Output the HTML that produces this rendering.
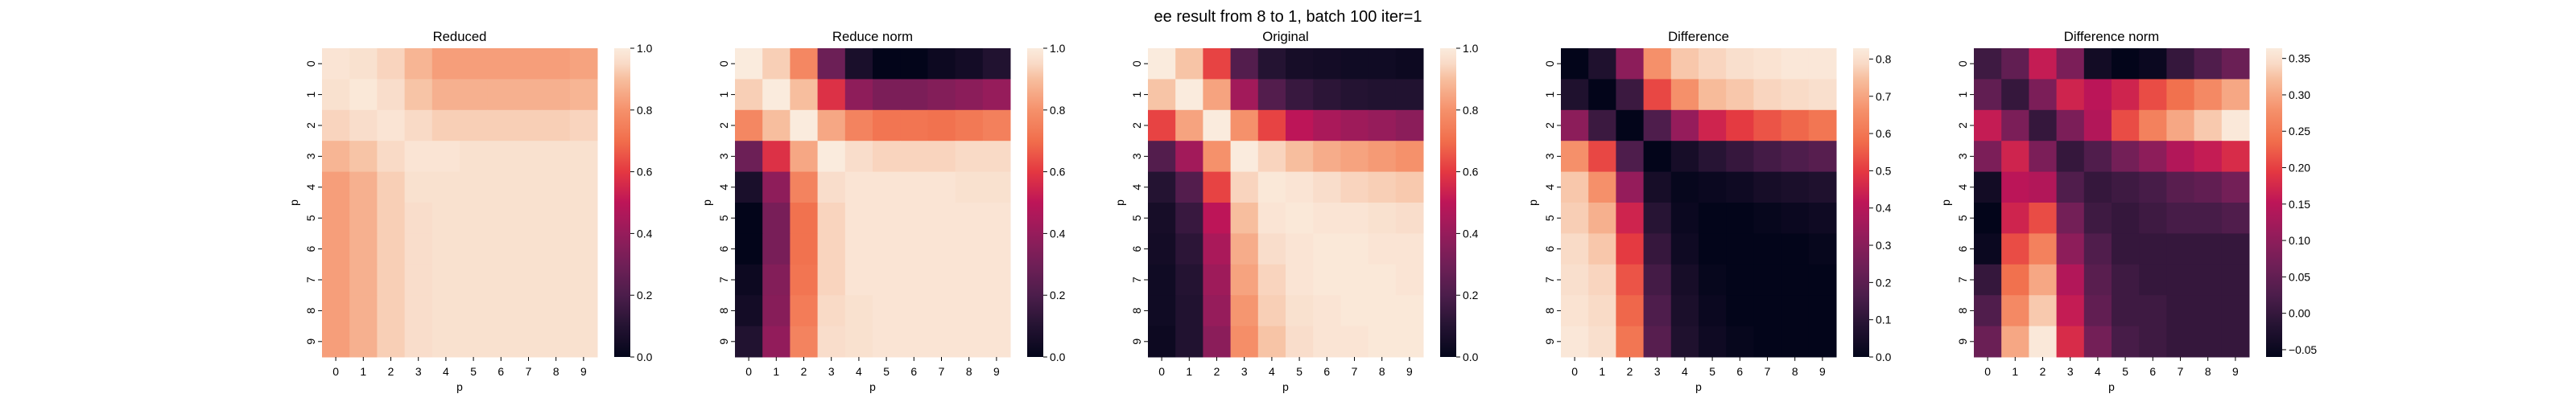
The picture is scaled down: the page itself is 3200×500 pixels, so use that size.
<!DOCTYPE html>
<html><head><meta charset="utf-8">
<style>
html,body{margin:0;padding:0;background:#fff;}
svg{display:block;font-family:"Liberation Sans","DejaVu Sans",sans-serif;}
</style></head>
<body>
<svg id="fig" width="3200" height="500" viewBox="0 0 3200 500" xmlns="http://www.w3.org/2000/svg">
<text x="1600" y="27" text-anchor="middle" font-size="20" fill="#000">ee result from 8 to 1, batch 100 iter=1</text>
</svg>
<script>
// categories
const categories = [0,1,2,3,4,5,6,7,8,9];
const titles = ["Reduced","Reduce norm","Original","Difference","Difference norm"];
const vmins = [0,0,0,0,-0.060];
const vmaxs = [1,1,1,0.829,0.364];
const cbarTicks0 = [0,0.2,0.4,0.6,0.8,1.0];
const cbarTicks3 = [0,0.1,0.2,0.3,0.4,0.5,0.6,0.7,0.8];
const cbarTicks4 = [-0.05,0,0.05,0.10,0.15,0.20,0.25,0.30,0.35];
const cbarLabels0 = ["0.0","0.2","0.4","0.6","0.8","1.0"];
const cbarLabels3 = ["0.0","0.1","0.2","0.3","0.4","0.5","0.6","0.7","0.8"];
const cbarLabels4 = ["\u22120.05","0.00","0.05","0.10","0.15","0.20","0.25","0.30","0.35"];

const reduced = [
[0.98,0.97,0.94,0.88,0.83,0.83,0.83,0.83,0.83,0.84],
[0.97,0.99,0.96,0.91,0.87,0.87,0.87,0.87,0.87,0.88],
[0.94,0.96,0.98,0.95,0.93,0.93,0.93,0.93,0.93,0.94],
[0.88,0.91,0.95,0.98,0.98,0.97,0.97,0.97,0.97,0.97],
[0.83,0.87,0.93,0.97,0.97,0.97,0.97,0.97,0.97,0.97],
[0.83,0.87,0.93,0.96,0.97,0.97,0.97,0.97,0.97,0.97],
[0.83,0.87,0.93,0.96,0.97,0.97,0.97,0.97,0.97,0.97],
[0.83,0.87,0.93,0.96,0.97,0.97,0.97,0.97,0.97,0.97],
[0.83,0.87,0.93,0.96,0.97,0.97,0.97,0.97,0.97,0.97],
[0.83,0.87,0.93,0.96,0.97,0.97,0.97,0.97,0.97,0.97]];
const reduceNorm = [
[1.00,0.93,0.77,0.29,0.07,0.00,0.00,0.03,0.05,0.09],
[0.93,1.00,0.90,0.58,0.38,0.33,0.33,0.35,0.37,0.40],
[0.77,0.90,1.00,0.85,0.76,0.72,0.72,0.71,0.73,0.75],
[0.29,0.58,0.85,1.00,0.96,0.94,0.94,0.94,0.95,0.95],
[0.07,0.38,0.76,0.96,0.98,0.98,0.98,0.98,0.97,0.97],
[0.00,0.32,0.71,0.94,0.98,0.98,0.98,0.98,0.98,0.98],
[0.00,0.32,0.71,0.94,0.98,0.98,0.98,0.98,0.98,0.98],
[0.03,0.35,0.72,0.94,0.98,0.98,0.98,0.98,0.98,0.98],
[0.05,0.36,0.74,0.95,0.97,0.98,0.98,0.98,0.98,0.98],
[0.09,0.39,0.76,0.96,0.97,0.98,0.98,0.98,0.98,0.98]];
const original = [
[1.00,0.91,0.62,0.22,0.10,0.06,0.05,0.04,0.04,0.03],
[0.91,1.00,0.84,0.43,0.22,0.15,0.12,0.10,0.09,0.09],
[0.62,0.84,1.00,0.80,0.62,0.50,0.45,0.42,0.40,0.37],
[0.22,0.43,0.80,1.00,0.94,0.90,0.86,0.84,0.82,0.80],
[0.10,0.22,0.62,0.94,0.99,0.98,0.96,0.94,0.93,0.92],
[0.06,0.15,0.50,0.90,0.98,0.99,0.98,0.98,0.97,0.96],
[0.05,0.12,0.45,0.86,0.96,0.98,0.99,0.99,0.98,0.98],
[0.04,0.10,0.42,0.84,0.94,0.98,0.99,0.99,0.99,0.98],
[0.04,0.09,0.40,0.81,0.93,0.97,0.98,0.99,0.99,0.99],
[0.03,0.09,0.37,0.79,0.91,0.96,0.98,0.98,0.99,0.99]];
const difference = [
[0.00,0.07,0.31,0.66,0.76,0.78,0.80,0.81,0.82,0.82],
[0.07,0.00,0.13,0.52,0.66,0.74,0.76,0.78,0.79,0.80],
[0.31,0.13,0.00,0.17,0.33,0.45,0.50,0.54,0.57,0.60],
[0.66,0.52,0.17,0.00,0.05,0.09,0.12,0.15,0.17,0.19],
[0.76,0.66,0.33,0.05,0.01,0.02,0.03,0.05,0.06,0.07],
[0.77,0.72,0.45,0.09,0.02,0.00,0.00,0.01,0.02,0.03],
[0.79,0.76,0.50,0.12,0.03,0.00,0.00,0.00,0.00,0.01],
[0.80,0.78,0.54,0.15,0.05,0.01,0.00,0.00,0.00,0.00],
[0.81,0.79,0.57,0.17,0.06,0.02,0.00,0.00,0.00,0.00],
[0.82,0.80,0.60,0.19,0.07,0.03,0.01,0.00,0.00,0.00]];
const differenceNorm = [
[0.01,0.05,0.16,0.08,-0.04,-0.06,-0.05,0.00,0.03,0.06],
[0.05,0.00,0.08,0.17,0.15,0.17,0.21,0.24,0.27,0.30],
[0.16,0.08,0.00,0.08,0.14,0.21,0.26,0.30,0.33,0.36],
[0.08,0.17,0.08,0.00,0.03,0.07,0.10,0.14,0.16,0.18],
[-0.04,0.15,0.14,0.03,0.00,0.01,0.02,0.04,0.05,0.07],
[-0.06,0.17,0.21,0.07,0.01,0.00,0.01,0.02,0.02,0.03],
[-0.05,0.21,0.26,0.10,0.03,0.00,0.00,0.00,0.00,0.00],
[0.00,0.24,0.30,0.14,0.04,0.01,0.00,0.00,0.00,0.00],
[0.03,0.27,0.33,0.16,0.05,0.01,0.01,0.00,0.00,0.00],
[0.06,0.30,0.36,0.18,0.07,0.02,0.01,0.00,0.00,0.00]];

const matrices = [reduced, reduceNorm, original, difference, differenceNorm];
const cbarTicks = [cbarTicks0, cbarTicks0, cbarTicks0, cbarTicks3, cbarTicks4];
const cbarLabels = [cbarLabels0, cbarLabels0, cbarLabels0, cbarLabels3, cbarLabels4];

const NS = "http://www.w3.org/2000/svg";
const svg = document.getElementById("fig");
const stopPos = [0,0.1,0.2,0.3,0.4,0.5,0.6,0.7,0.8,0.9,0.95,1.0];
const stops = [[3,5,26],[36,19,50],[76,29,75],[112,31,87],[150,28,91],[189,21,88],[228,56,65],[241,110,76],[245,145,107],[247,190,158],[249,218,198],[250,235,221]];
function rocket(t){
  t = Math.max(0, Math.min(1, t));
  let i = 0;
  while (i < stopPos.length - 2 && t > stopPos[i+1]) i++;
  const u = (t - stopPos[i]) / (stopPos[i+1] - stopPos[i]);
  const a = stops[i], b = stops[i+1];
  return "rgb(" + [0,1,2].map(k => Math.round(a[k] + (b[k]-a[k])*u)).join(",") + ")";
}
function mk(tag, attrs, parent){
  const e = document.createElementNS(NS, tag);
  for (const k in attrs) e.setAttribute(k, attrs[k]);
  (parent || svg).appendChild(e);
  return e;
}
const TOP = 60, W = 342, H = 384, STEP = 513, LEFT0 = 400;
const defs = mk("defs", {});
const grad = mk("linearGradient", {id:"rk", x1:"0", y1:"1", x2:"0", y2:"0"}, defs);
for (let i = 0; i <= 40; i++) mk("stop", {offset: (i/40), "stop-color": rocket(i/40)}, grad);

matrices.forEach((M, p) => {
  const left = LEFT0 + p * STEP;
  const g = mk("g", {});
  
  
  const nC = categories.length, nR = M.length;
  const xS = j => left + j * W / nC;
  const yS = i => TOP + i * H / nR;
  const lo = vmins[p], hi = vmaxs[p];
  M.forEach((row, i) => row.forEach((v, j) => {
    const r = mk("rect", {x: xS(j), y: yS(i), width: W/nC + 0.5, height: H/nR + 0.5, fill: rocket((v - lo) / (hi - lo))}, g);
    
    
  }));
  const t = mk("text", {x: left + W/2, y: TOP - 9, "text-anchor": "middle", "font-size": 16.7, fill: "#000"}, g);
  
  
  t.textContent = titles[p];
  categories.forEach((c, j) => {
    const cx = xS(j + 0.5);
    mk("line", {x1: cx, x2: cx, y1: TOP + H, y2: TOP + H + 4.9, stroke: "#000", "stroke-width": 1}, g);
    const xt = mk("text", {x: cx, y: TOP + H + 23, "text-anchor": "middle", "font-size": 13.9, fill: "#000"}, g);
    
    
    xt.textContent = c;
    const cy = yS(j + 0.5);
    mk("line", {x1: left - 4.9, x2: left, y1: cy, y2: cy, stroke: "#000", "stroke-width": 1}, g);
    const yt = mk("text", {x: left - 9, y: cy, "text-anchor": "middle", "font-size": 13.9, fill: "#000", transform: "rotate(-90 " + (left - 9) + " " + cy + ")"}, g);
    
    
    yt.textContent = c;
  });
  const xl = mk("text", {x: left + W/2, y: TOP + H + 42, "text-anchor": "middle", "font-size": 13.9, fill: "#000"}, g);
  
  
  xl.textContent = "p";
  const ylx = left - 30, yly = TOP + H/2;
  const yl = mk("text", {x: ylx, y: yly, "text-anchor": "middle", "font-size": 13.9, fill: "#000", transform: "rotate(-90 " + ylx + " " + yly + ")"}, g);
  
  
  yl.textContent = "p";
  const cbx = left + W + 21;
  const cb = mk("rect", {x: cbx, y: TOP, width: 20, height: H, fill: "url(#rk)"}, g);
  
  
  const cyS = v => TOP + H - (v - lo) / (hi - lo) * H;
  cbarTicks[p].forEach((v, k) => {
    const y = cyS(v);
    mk("line", {x1: cbx + 20, x2: cbx + 24.9, y1: y, y2: y, stroke: "#000", "stroke-width": 1}, g);
    const ct = mk("text", {x: cbx + 28, y: y + 5, "font-size": 13.9, fill: "#000"}, g);
    
    
    ct.textContent = cbarLabels[p][k];
  });
});
</script>
</body></html>
